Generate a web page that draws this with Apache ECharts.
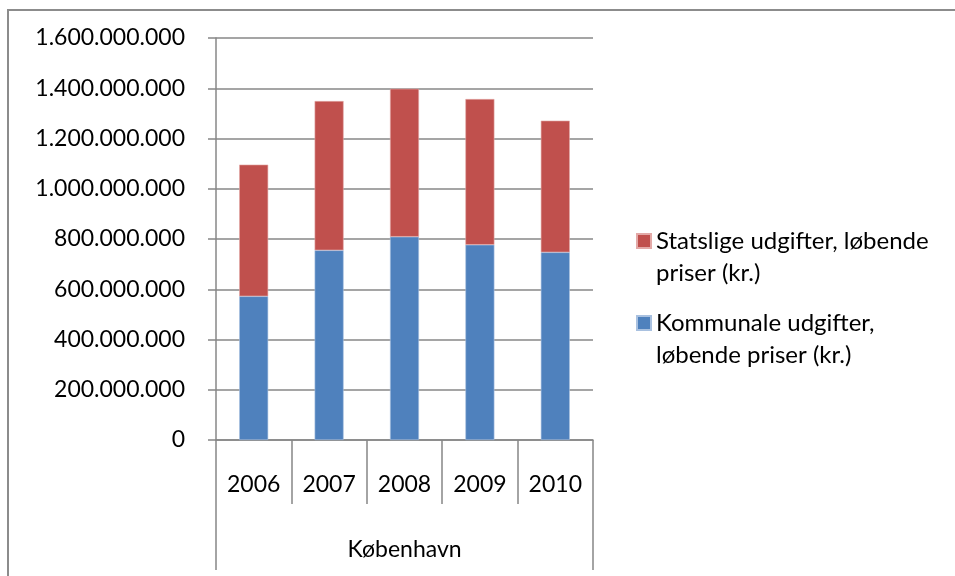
<!DOCTYPE html>
<html>
<head>
<meta charset="utf-8">
<script src="https://cdn.jsdelivr.net/npm/echarts@6/dist/echarts.min.js"></script>
<style>
  html, body { margin: 0; padding: 0; background: #fff; }
  #main { width: 955px; height: 576px; }
</style>
</head>
<body>
<div id="main"></div>
<script>
var years = ['2006', '2007', '2008', '2009', '2010']
var region = ['København']
var kommunale = [572000000, 755000000, 809000000, 777000000, 747000000]
var statslige = [524000000, 594000000, 589000000, 580000000, 524000000]
var seriesNames = ['Kommunale udgifter,\nløbende priser (kr.)', 'Statslige udgifter, løbende\npriser (kr.)']

var chartDom = document.getElementById('main')
var myChart = echarts.init(chartDom)
var font = 'Lato'
var gray = '#878787'

let formatNumber = num => num.toString().replace(/(?=(\B)(\d{3})+$)/g, '.')

var option = {
  animation: false,
  textStyle: { fontFamily: font },
  graphic: [
    {
      type: 'rect',
      shape: { x: 8, y: 10, width: 1000, height: 1000 },
      style: { fill: 'none', stroke: '#8c8c8c', lineWidth: 2 },
      silent: true
    }
  ],
  grid: { left: 216, right: 362, top: 38, bottom: 136 },
  legend: {
    orient: 'vertical',
    left: 631,
    top: 188,
    itemWidth: 14,
    itemHeight: 14,
    itemGap: -14,
    icon: 'rect',
    data: [seriesNames[1], seriesNames[0]],
    // blank first line so the marker sits beside the first text line
    formatter: name => '\n' + name,
    textStyle: {
      fontFamily: font,
      fontSize: 24,
      color: '#000',
      lineHeight: 32
    }
  },
  xAxis: [
    {
      type: 'category',
      data: years,
      position: 'bottom',
      axisLine: { show: true, lineStyle: { color: gray, width: 1.5 } },
      axisTick: { show: true, interval: 0, length: 64, lineStyle: { color: gray, width: 1.5 } },
      axisLabel: { interval: 0, margin: 33, fontSize: 23, color: '#000', fontFamily: font }
    },
    {
      type: 'category',
      data: region,
      position: 'bottom',
      axisLine: { show: false },
      axisTick: { show: true, interval: 0, length: 130, lineStyle: { color: gray, width: 1.5 } },
      axisLabel: { interval: 0, margin: 98, fontSize: 23, color: '#000', fontFamily: font }
    }
  ],
  yAxis: {
    type: 'value',
    min: 0,
    max: 1600000000,
    interval: 200000000,
    axisLine: { show: true, lineStyle: { color: gray, width: 1.5 } },
    axisTick: { show: true, length: 8, lineStyle: { color: gray, width: 1.5 } },
    splitLine: { lineStyle: { color: gray, width: 1.5 } },
    axisLabel: { margin: 31, fontSize: 23, color: '#000', fontFamily: font, formatter: v => formatNumber(v) }
  },
  series: [
    {
      name: seriesNames[0],
      type: 'bar',
      stack: 'total',
      barWidth: 29,
      data: kommunale,
      itemStyle: { color: '#4F81BD', borderColor: '#a9c1e0', borderWidth: 0.6 }
    },
    {
      name: seriesNames[1],
      type: 'bar',
      stack: 'total',
      barWidth: 29,
      data: statslige,
      itemStyle: { color: '#C0504D', borderColor: '#e3a9a7', borderWidth: 0.6 }
    }
  ]
}

option && myChart.setOption(option)
</script>
</body>
</html>
